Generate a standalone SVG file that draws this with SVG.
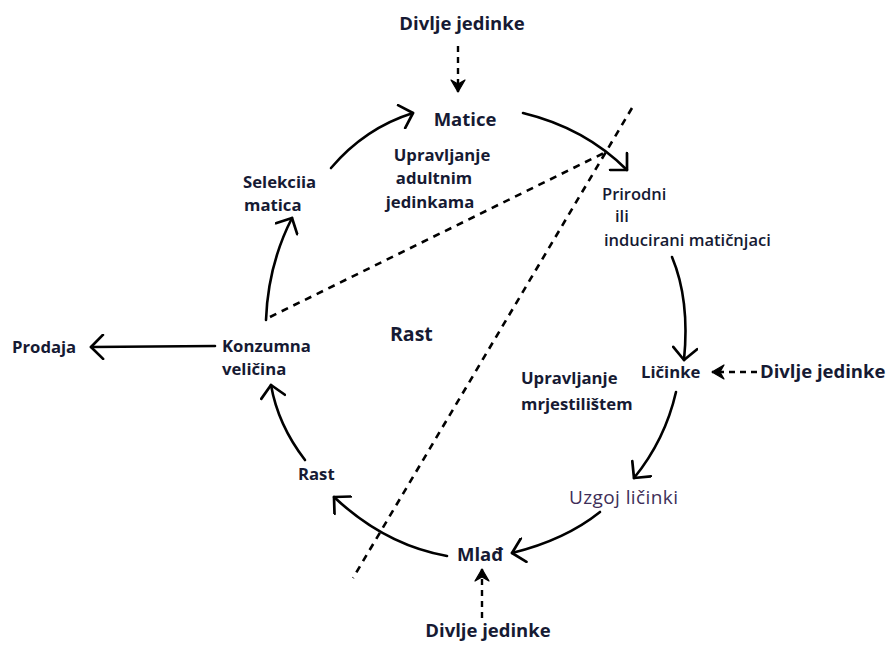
<svg xmlns="http://www.w3.org/2000/svg" width="887" height="645" viewBox="0 0 887 645">
<style>
.t{font-family:"Open Sans","Noto Sans","Liberation Sans",sans-serif;font-weight:bold;font-size:16.7px;fill:#161a33}
.b{font-size:18.5px}
.s{font-family:"Open Sans","Noto Sans","Liberation Sans",sans-serif;font-weight:600;font-size:16.5px;fill:#161a33}
.u{font-family:"Open Sans","Noto Sans","Liberation Sans",sans-serif;font-weight:normal;font-size:19px;letter-spacing:0.4px;fill:#3e2e58}
.a{fill:none;stroke:#000;stroke-width:2.6;stroke-linecap:round;marker-end:url(#h)}
.d{fill:none;stroke:#000;stroke-width:2.6;stroke-dasharray:7,6}
.da{fill:none;stroke:#000;stroke-width:2.4;stroke-dasharray:6,5;marker-end:url(#hd)}
</style>
<defs>
<marker id="h" viewBox="0 0 26 26" refX="22" refY="13" markerWidth="26" markerHeight="26" markerUnits="userSpaceOnUse" orient="auto">
<path d="M10,1 L22,13 L10,25" fill="none" stroke="#000" stroke-width="2.7" stroke-linecap="round" stroke-linejoin="round"/>
</marker>
<marker id="hd" viewBox="0 0 16 16" refX="14" refY="8" markerWidth="16" markerHeight="16" markerUnits="userSpaceOnUse" orient="auto">
<path d="M2,1 L14,8 L2,15 L6,8 Z" fill="#000" stroke="#000" stroke-width="1.2" stroke-linejoin="round"/>
</marker>
</defs>
<g id="connectors">
<path class="a" d="M331,168 Q365,128 413,113"/>
<path class="a" d="M523,113 Q585,128 627,170"/>
<path class="a" d="M672,257 Q690,300 684,360"/>
<path class="a" d="M676,392 Q665,440 634,478"/>
<path class="a" d="M600,512 Q565,540 512,553"/>
<path class="a" d="M447,556 Q385,545 334,497"/>
<path class="a" d="M305,460 Q278,425 271,385"/>
<path class="a" d="M266,320 Q268,265 292,218"/>
<path class="a" d="M215,346 L91,347"/>
<path class="da" d="M458,46 L458,92"/>
<path class="da" d="M757,372 L712,372"/>
<path class="da" d="M482,618 L482,569"/>
<path class="d" d="M270,317 L606,152"/>
<path class="d" d="M632,108 L353,578"/>
</g>
<g id="n-divlje-top"><text class="t b" x="462" y="30" text-anchor="middle">Divlje jedinke</text></g>
<g id="n-matice"><text class="t b" x="465" y="126" text-anchor="middle">Matice</text></g>
<g id="n-upravljanje-adult"><text class="t" x="442" y="161" text-anchor="middle">Upravljanje</text><text class="t" x="434" y="184" text-anchor="middle">adultnim</text><text class="t" x="430" y="208" text-anchor="middle">jedinkama</text></g>
<g id="n-selekcija"><text class="t" x="243" y="188">Selekciia</text><text class="t" x="244" y="211">matica</text></g>
<g id="n-prirodni"><text class="s" x="602" y="200">Prirodni</text><text class="s" x="615" y="222">ili</text><text class="s" x="604" y="246">inducirani matičnjaci</text></g>
<g id="n-licinke"><text class="t" x="641" y="378">Ličinke</text></g>
<g id="n-divlje-right"><text class="t b" x="760" y="378">Divlje jedinke</text></g>
<g id="n-rast-center"><text class="t" x="390" y="341" style="font-size:19.5px">Rast</text></g>
<g id="n-upravljanje-mrj"><text class="t" x="521" y="384">Upravljanje</text><text class="t" x="521" y="410">mrjestilištem</text></g>
<g id="n-uzgoj"><text class="u" x="569" y="504">Uzgoj ličinki</text></g>
<g id="n-mlad"><text class="t b" x="457" y="561">Mlađ</text></g>
<g id="n-rast"><text class="t" x="298" y="480">Rast</text></g>
<g id="n-konzumna"><text class="t" x="222" y="352">Konzumna</text><text class="t" x="222" y="375">veličina</text></g>
<g id="n-prodaja"><text class="t" x="12" y="353">Prodaja</text></g>
<g id="n-divlje-bottom"><text class="t b" x="488" y="637" text-anchor="middle">Divlje jedinke</text></g>
</svg>
